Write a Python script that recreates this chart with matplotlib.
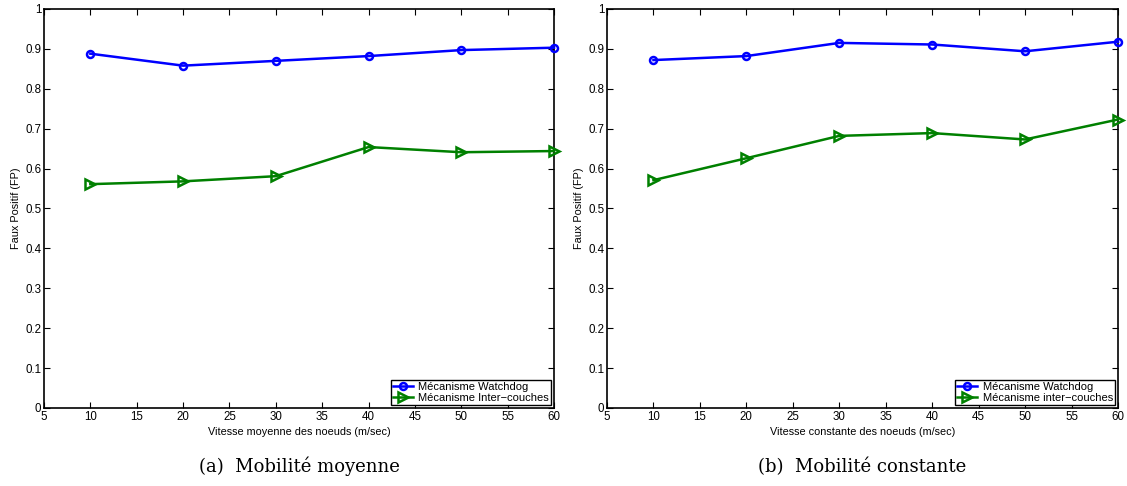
import numpy as np
import matplotlib.pyplot as plt

vitesse = [10, 20, 30, 40, 50, 60]

# (a) mobilité moyenne
watchdog_moy = [0.888, 0.858, 0.870, 0.882, 0.897, 0.903]
inter_moy = [0.561, 0.568, 0.581, 0.654, 0.641, 0.644]

# (b) mobilité constante
watchdog_cst = [0.872, 0.882, 0.915, 0.911, 0.894, 0.918]
inter_cst = [0.571, 0.626, 0.682, 0.689, 0.673, 0.723]

xticks = [5, 10, 15, 20, 25, 30, 35, 40, 45, 50, 55, 60]
yticks = [0, 0.1, 0.2, 0.3, 0.4, 0.5, 0.6, 0.7, 0.8, 0.9, 1]
ytick_labels = ['0', '0.1', '0.2', '0.3', '0.4', '0.5', '0.6', '0.7', '0.8', '0.9', '1']

plt.rcParams['font.family'] = ['Liberation Sans', 'DejaVu Sans']

fig = plt.figure(figsize=(11.27, 4.86), dpi=100)
ax1 = fig.add_axes([0.039, 0.1605, 0.4526, 0.821])
ax2 = fig.add_axes([0.5386, 0.1605, 0.4534, 0.821])


def panneau(ax, w, ic, xlabel, label_inter, legende):
    ax.plot(vitesse, w, '-o', color='blue', lw=1.8, ms=5, mfc='none', mew=1.8,
            label='Mécanisme Watchdog', clip_on=False, zorder=3)
    ax.plot(vitesse, ic, '->', color='green', lw=1.8, ms=6.5, mfc='none', mew=1.8,
            label=label_inter, clip_on=False, zorder=3)
    ax.set_xlim(5, 60)
    ax.set_ylim(0, 1)
    ax.set_xticks(xticks)
    ax.set_yticks(yticks)
    ax.set_yticklabels(ytick_labels)
    ax.tick_params(direction='in', top=True, right=True, labelsize=8.3,
                   length=4)
    ax.tick_params(axis='x', pad=2.5)
    ax.tick_params(axis='y', pad=2)
    for s in ax.spines.values():
        s.set_linewidth(1.2)
    ax.set_xlabel(xlabel, fontsize=7.8, labelpad=2.5)
    ax.set_ylabel('Faux Positif (FP)', fontsize=7.8, labelpad=3)
    leg = ax.legend(loc='lower right', fontsize=8, fancybox=False,
                    edgecolor='black', framealpha=1, borderpad=0.2,
                    handlelength=1.8, handletextpad=0.5, labelspacing=0.1,
                    borderaxespad=0.25)
    leg.get_frame().set_linewidth(1)
    fig.text((ax.get_position().x0 + ax.get_position().x1) / 2, 0.04,
             legende, ha='center', va='center', fontsize=13,
             family='DejaVu Serif')


panneau(ax1, watchdog_moy, inter_moy, 'Vitesse moyenne des noeuds (m/sec)',
        'Mécanisme Inter−couches', '(a)  Mobilité moyenne')
panneau(ax2, watchdog_cst, inter_cst, 'Vitesse constante des noeuds (m/sec)',
        'Mécanisme inter−couches', '(b)  Mobilité constante')

fig.savefig('out.png', dpi=100)
